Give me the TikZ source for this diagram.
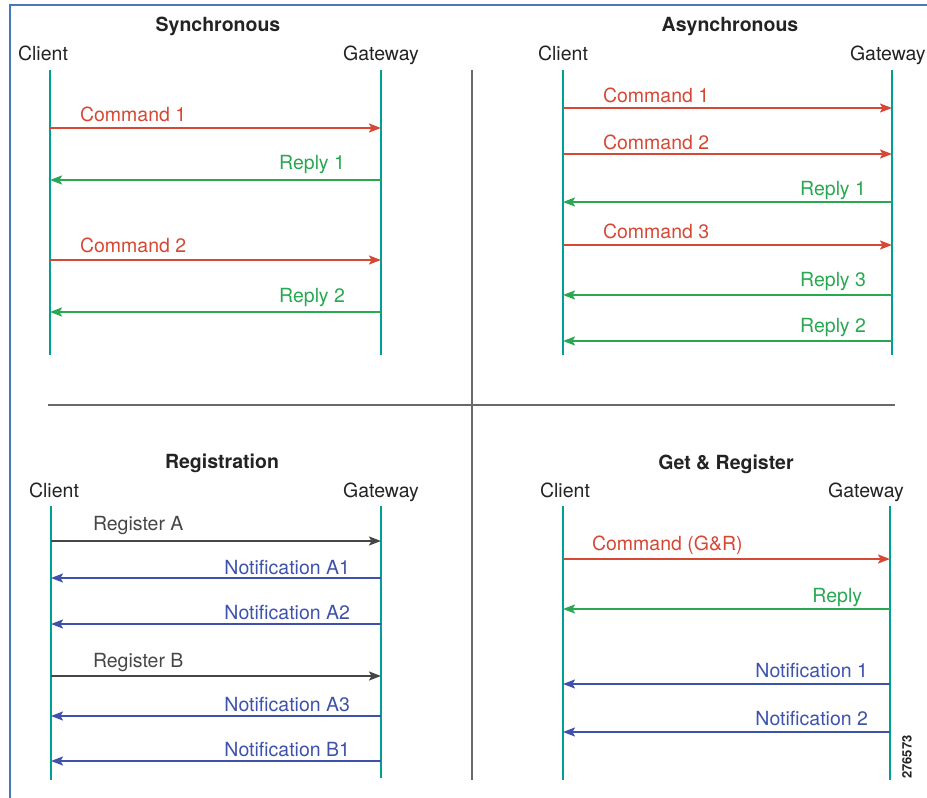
\documentclass[tikz,border=0pt]{standalone}
\usepackage{fontspec}
\setmainfont{TeX Gyre Heros}
\usetikzlibrary{arrows.meta}
\definecolor{teal}{RGB}{0,160,150}
\definecolor{cmdred}{RGB}{214,72,52}
\definecolor{repgreen}{RGB}{40,168,80}
\definecolor{notblue}{RGB}{62,82,172}
\definecolor{reggray}{RGB}{70,70,70}
\definecolor{frameblue}{RGB}{70,120,190}
\definecolor{divgray}{RGB}{105,105,105}
\definecolor{txt}{RGB}{35,35,35}
\tikzset{
  every node/.style={inner sep=0pt, outer sep=0pt, font=\fontsize{19.5}{22}\selectfont},
  title/.style={font=\fontsize{19.5}{22}\selectfont\bfseries, text=txt, anchor=base, yshift=-7.5pt},
  party/.style={text=txt, anchor=base, yshift=-7.5pt},
  life/.style={draw=teal, line width=2pt},
  msg/.style={line width=2pt, -{Stealth[length=12pt,width=9pt,inset=2.5pt]}},
  cmd/.style={msg, draw=cmdred},
  rep/.style={msg, draw=repgreen},
  note/.style={msg, draw=notblue},
  reg/.style={msg, draw=reggray},
  cmdl/.style={text=cmdred, anchor=base west, yshift=-7.5pt},
  repl/.style={text=repgreen, anchor=base east, yshift=-7.5pt},
  notel/.style={text=notblue, anchor=base east, yshift=-7.5pt},
  regl/.style={text=reggray, anchor=base west, yshift=-7.5pt},
  divider/.style={draw=divgray, line width=1.6pt},
  frame/.style={draw=frameblue, line width=1.6pt}
}
\begin{document}
\begin{tikzpicture}[x=1pt,y=-1pt]
\useasboundingbox (0,0) rectangle (927,798);
\begin{scope}
\clip (0,0) rectangle (927,798);
% frame
\coordinate (FB) at (10,798);
\coordinate (FTL) at (10,5);
\coordinate (FTR) at (927,5);
\draw[frame] (FB) -- (FTL) -- (FTR);
% dividers
\coordinate (VT) at (472,70);
\coordinate (VB) at (472,780);
\coordinate (HL) at (48,405);
\coordinate (HR) at (895,405);
\draw[divider] (VT) -- (VB);
\draw[divider] (HL) -- (HR);

% ===== Synchronous =====
\node[title] (t1) at (218,24) {Synchronous};
\node[party] (p1c) at (43,53) {Client};
\node[party] (p1g) at (381,53) {Gateway};
\coordinate (SC) at (50,70); \coordinate (SCb) at (50,355);
\coordinate (SG) at (381,70); \coordinate (SGb) at (381,355);
\draw[life] (SC) -- (SCb);
\draw[life] (SG) -- (SGb);
\draw[cmd] (SC |- 0,128) -- (SG |- 0,128);
\node[cmdl] (l11) at (80,114) {Command 1};
\draw[rep] (SG |- 0,180) -- (SC |- 0,180);
\node[repl] (l12) at (345,162) {Reply 1};
\draw[cmd] (SC |- 0,260) -- (SG |- 0,260);
\node[cmdl] (l13) at (80,245) {Command 2};
\draw[rep] (SG |- 0,312) -- (SC |- 0,312);
\node[repl] (l14) at (345,295) {Reply 2};

% ===== Asynchronous =====
\node[title] (t2) at (730,24) {Asynchronous};
\node[party] (p2c) at (563,53) {Client};
\node[party, anchor=base west] (p2g) at (850,53) {Gateway};
\coordinate (AC) at (563,70); \coordinate (ACb) at (563,355);
\coordinate (AG) at (892,70); \coordinate (AGb) at (892,355);
\draw[life] (AC) -- (ACb);
\draw[life] (AG) -- (AGb);
\draw[cmd] (AC |- 0,108) -- (AG |- 0,108);
\node[cmdl] (l21) at (603,95) {Command 1};
\draw[cmd] (AC |- 0,154) -- (AG |- 0,154);
\node[cmdl] (l22) at (603,142) {Command 2};
\draw[rep] (AG |- 0,202) -- (AC |- 0,202);
\node[repl] (l23) at (866,188) {Reply 1};
\draw[cmd] (AC |- 0,245) -- (AG |- 0,245);
\node[cmdl] (l24) at (603,231) {Command 3};
\draw[rep] (AG |- 0,295) -- (AC |- 0,295);
\node[repl] (l25) at (866,279) {Reply 3};
\draw[rep] (AG |- 0,341) -- (AC |- 0,341);
\node[repl] (l26) at (866,325) {Reply 2};

% ===== Registration =====
\node[title] (t3) at (222,461) {Registration};
\node[party] (p3c) at (54,490) {Client};
\node[party] (p3g) at (381,490) {Gateway};
\coordinate (RC) at (51,506); \coordinate (RCb) at (51,780);
\coordinate (RG) at (381,506); \coordinate (RGb) at (381,778);
\draw[life] (RC) -- (RCb);
\draw[life] (RG) -- (RGb);
\draw[reg] (RC |- 0,541) -- (RG |- 0,541);
\node[regl] (l31) at (93,523) {Register A};
\draw[note] (RG |- 0,578) -- (RC |- 0,578);
\node[notel] (l32) at (350,567) {Notification A1};
\draw[note] (RG |- 0,624) -- (RC |- 0,624);
\node[notel] (l33) at (350,612) {Notification A2};
\draw[reg] (RC |- 0,676) -- (RG |- 0,676);
\node[regl] (l34) at (93,660) {Register B};
\draw[note] (RG |- 0,716) -- (RC |- 0,716);
\node[notel] (l35) at (350,704) {Notification A3};
\draw[note] (RG |- 0,761) -- (RC |- 0,761);
\node[notel] (l36) at (350,749) {Notification B1};

% ===== Get & Register =====
\node[title] (t4) at (726,462) {Get \& Register};
\node[party] (p4c) at (565,490) {Client};
\node[party] (p4g) at (866,490) {Gateway};
\coordinate (GC) at (563,506); \coordinate (GCb) at (563,780);
\coordinate (GG) at (890,506); \coordinate (GGb) at (890,780);
\draw[life] (GC) -- (GCb);
\draw[life] (GG) -- (GGb);
\draw[cmd] (GC |- 0,559) -- (GG |- 0,559);
\node[cmdl] (l41) at (592,543) {Command (G\&R)};
\draw[rep] (GG |- 0,609) -- (GC |- 0,609);
\node[repl] (l42) at (862,595) {Reply};
\draw[note] (GG |- 0,684) -- (GC |- 0,684);
\node[notel] (l43) at (868,670) {Notification 1};
\draw[note] (GG |- 0,732) -- (GC |- 0,732);
\node[notel] (l44) at (868,718) {Notification 2};

\node[rotate=90, text=txt, font=\fontsize{13}{14}\selectfont\bfseries] (fig) at (907,757) {276573};
\end{scope}
\end{tikzpicture}
\end{document}
